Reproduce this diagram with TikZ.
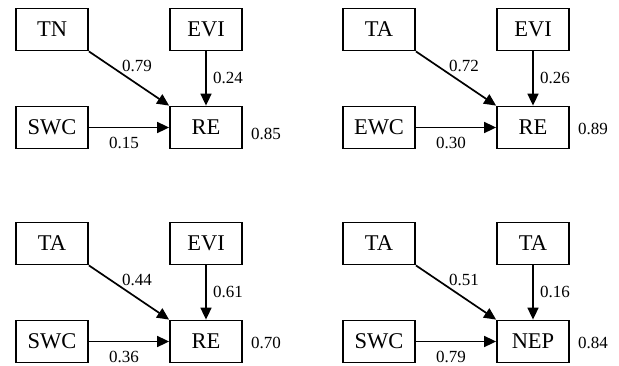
\documentclass[tikz,border=0pt]{standalone}
\usepackage{fontspec}
\setmainfont{Liberation Serif}
\usetikzlibrary{arrows.meta}

\begin{document}
\begin{tikzpicture}[x=1pt, y=-1pt, line width=1.8pt,
    var/.style={rectangle, draw, minimum width=72pt, minimum height=42pt, inner sep=0pt, font=\fontsize{22.5}{26}\selectfont},
    coef/.style={inner sep=0pt, font=\fontsize{17}{20}\selectfont},
    effect/.style={-{Triangle[length=12pt,width=11pt]}, line width=1.7pt}]
  \useasboundingbox (0,0) rectangle (619,365);

  % one panel per model: shift, name, the four variables, three paths, R2
  \foreach \dx/\dy/\pan/\va/\vb/\vc/\vd/\ca/\cb/\cc/\rr/\ry in
    {0/0/tl/TN/EVI/SWC/RE/0.79/0.24/0.15/0.85/6,
     327/0/tr/TA/EVI/EWC/RE/0.72/0.26/0.30/0.89/1,
     0/214/bl/TA/EVI/SWC/RE/0.44/0.61/0.36/0.70/1,
     327/214/br/TA/TA/SWC/NEP/0.51/0.16/0.79/0.84/1}
  {
    \begin{scope}[shift={(\dx,\dy)}]
      \node[var] (\pan-x1) at (52,29.5) {\va};
      \node[var] (\pan-x2) at (206,29.5) {\vb};
      \node[var] (\pan-x3) at (52,127.5) {\vc};
      \node[var] (\pan-y) at (206,127.5) {\vd};

      \draw[effect] (\pan-x1.south east) -- (\pan-y.north west);
      \draw[effect] (\pan-x2) -- (\pan-y);
      \draw[effect] (\pan-x3) -- (\pan-y);

      \node[coef] (\pan-c1) at (137,66) {\ca};
      \node[coef] (\pan-c2) at (228,78) {\cb};
      \node[coef] (\pan-c3) at (124,143) {\cc};
      \node[coef] (\pan-r2) at (266,127.5+\ry) {\rr};
    \end{scope}
  }
\end{tikzpicture}
\end{document}
